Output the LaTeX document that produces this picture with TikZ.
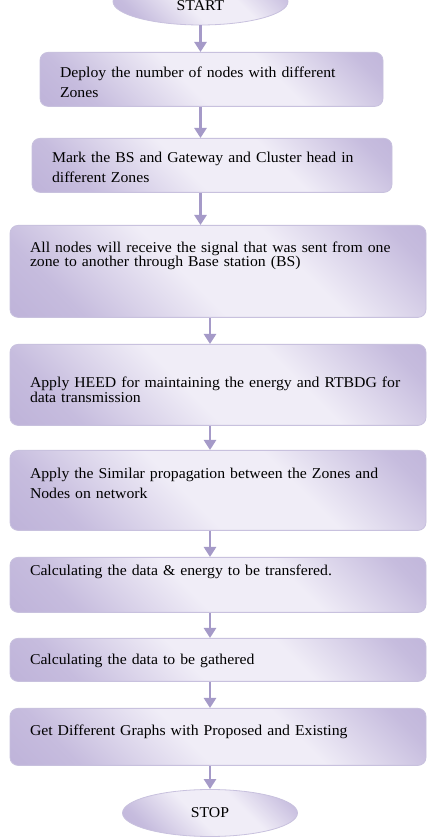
\documentclass[tikz,border=0pt]{standalone}
\usepackage{fontspec}
\setmainfont{Liberation Serif}[FakeStretch=1.05]
\usetikzlibrary{shapes.geometric,arrows.meta}

\definecolor{lilacdark}{RGB}{180,167,211}
\definecolor{lilaclight}{RGB}{240,237,247}
\definecolor{lilacedge}{RGB}{200,193,222}
\definecolor{arrowcolor}{RGB}{165,154,200}

\pgfdeclareverticalshading{lilacband}{100bp}{%
  color(0bp)=(lilacdark); color(25bp)=(lilacdark!70!lilaclight);
  color(45bp)=(lilaclight); color(62bp)=(lilaclight);
  color(80bp)=(lilacdark!70!lilaclight); color(100bp)=(lilacdark)}

\begin{document}
\begin{tikzpicture}[
    x=1pt, y=1pt,
    font=\fontsize{15}{15}\selectfont,
    %% Page is 430 x 840, y counted upward from the bottom edge
    %% Box tops:  y = 788  702  615  496  390  283  202  132
    lilacfill/.style={shading=lilacband, shading angle=-45},
    stepbox/.style={lilacfill, draw=lilacedge, line width=0.8pt,
                    rounded corners=8pt, anchor=north,
                    inner xsep=20pt, inner ysep=0pt, align=left},
    endpoint/.style={ellipse, lilacfill, draw=lilacedge, line width=0.8pt,
                     minimum width=175pt, minimum height=47pt, inner sep=0pt},
    flow/.style={draw=arrowcolor, line width=2.5pt,
                 -{Triangle[width=12pt,length=10pt]}},
]

%% ── Frame ────────────────────────────────────────────────────────────────
\useasboundingbox[fill=white] (0,0) rectangle (430,840);

%% ── Start ────────────────────────────────────────────────────────────────
\node[endpoint, text height=18pt, text depth=0pt] (start) at (200.5,838.5)
    {START};

%% ── Steps ────────────────────────────────────────────────────────────────
\node[stepbox, text width=303pt, text height=25pt, text depth=29pt]
    (deploy) at (211.5,788)
    {Deploy the number of nodes with different\\[5pt]Zones};

\node[stepbox, text width=320pt, text height=24pt, text depth=30pt]
    (mark) at (212,702)
    {Mark the BS and Gateway and Cluster head in\\[5pt]different Zones};

\node[stepbox, text width=376pt, text height=27pt, text depth=65pt]
    (allnodes) at (218,615)
    {All nodes will receive the signal that was sent from one\\[-1pt]
     zone to another through Base station (BS)};

\node[stepbox, text width=376pt, text height=43pt, text depth=38pt]
    (heed) at (218,496)
    {Apply HEED for maintaining the energy and RTBDG for\\
     data transmission};

\node[stepbox, text width=376pt, text height=28pt, text depth=52pt]
    (similar) at (218,390)
    {Apply the Similar propagation between the Zones and\\[5pt]
     Nodes on network};

\node[stepbox, text width=376pt, text height=18pt, text depth=37pt]
    (transfer) at (218,283)
    {Calculating the data \& energy to be transfered.};

\node[stepbox, text width=376pt, text height=26pt, text depth=17pt]
    (gather) at (218,202)
    {Calculating the data to be gathered};

\node[stepbox, text width=376pt, text height=27pt, text depth=30pt]
    (graphs) at (218,132)
    {Get Different Graphs with Proposed and Existing};

%% ── Stop ─────────────────────────────────────────────────────────────────
\node[endpoint] (stop) at (210,27) {STOP};

%% ── Arrows ───────────────────────────────────────────────────────────────
\draw[flow] (start.south) -- (start.south |- deploy.north);
\draw[flow] (deploy.south -| start) -- (mark.north -| start);
\draw[flow] (mark.south -| start) -- (allnodes.north -| start);
\draw[flow] (allnodes.south -| stop) -- (heed.north -| stop);
\draw[flow] (heed.south -| stop) -- (similar.north -| stop);
\draw[flow] (similar.south -| stop) -- (transfer.north -| stop);
\draw[flow] (transfer.south -| stop) -- (gather.north -| stop);
\draw[flow] (gather.south -| stop) -- (graphs.north -| stop);
\draw[flow] (graphs.south -| stop) -- (stop.north);

\end{tikzpicture}
\end{document}
